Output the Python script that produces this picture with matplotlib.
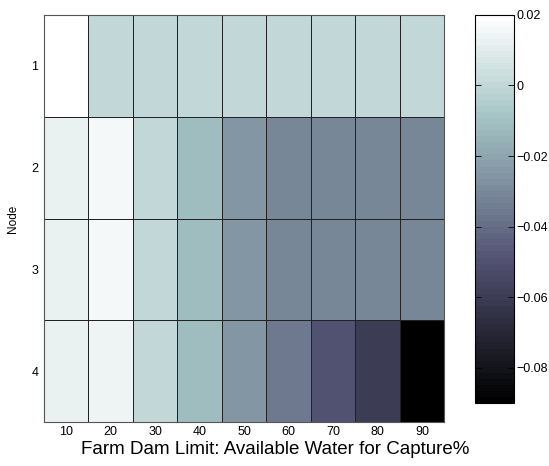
import matplotlib

matplotlib.use("Agg")
import matplotlib.pyplot as plt
import numpy as np

plt.rcParams["font.family"] = ["Liberation Sans", "DejaVu Sans"]

# capture limit (%) per column, nodes per row
limits = [10, 20, 30, 40, 50, 60, 70, 80, 90]
nodes = [1, 2, 3, 4]

node1 = [0.020, 0.000, 0.000, 0.000, 0.000, 0.000, 0.000, 0.000, 0.000]
node2 = [0.012, 0.015, 0.000, -0.011, -0.025, -0.031, -0.031, -0.031, -0.031]
node3 = [0.012, 0.015, 0.000, -0.011, -0.025, -0.031, -0.031, -0.031, -0.031]
node4 = [0.012, 0.014, 0.000, -0.011, -0.025, -0.035, -0.050, -0.060, -0.090]

cbar_ticks = [0.02, 0, -0.02, -0.04, -0.06, -0.08]

vals = np.array([node1, node2, node3, node4])

fig = plt.figure(figsize=(5.49, 4.66), dpi=100)
ax = fig.add_axes([0.080, 0.094, 0.729, 0.874])
cax = fig.add_axes([0.865, 0.135, 0.071, 0.833])

cmap = plt.get_cmap("bone", 64)
mesh = ax.pcolormesh(
    np.arange(len(limits) + 1), np.arange(len(nodes) + 1), vals,
    cmap=cmap, vmin=-0.09, vmax=0.02, edgecolor="#222222", linewidth=0.6,
)
ax.set_ylim(len(nodes), 0)
ax.set_xticks(np.arange(len(limits)) + 0.5)
ax.set_xticklabels([str(v) for v in limits])
ax.set_yticks(np.arange(len(nodes)) + 0.5)
ax.set_yticklabels([str(v) for v in nodes])
ax.tick_params(axis="x", length=0, labelsize=9, pad=3)
ax.tick_params(axis="y", length=0, labelsize=9, pad=4)
ax.set_ylabel("Node", fontsize=8.5, labelpad=9)
# label sits centred on the figure rather than the axes
ax.set_xlabel("Farm Dam Limit: Available Water for Capture%", fontsize=13.5, labelpad=2)
ax.xaxis.set_label_coords(0.5775, -0.045, transform=ax.transAxes)
ax.xaxis.label.set_va("top")
for s in ax.spines.values():
    s.set_color("#555555")
    s.set_linewidth(0.8)

cb = fig.colorbar(mesh, cax=cax)
cb.set_ticks(cbar_ticks)
cb.set_ticklabels(["0.02", "0", "\u22120.02", "\u22120.04", "\u22120.06", "\u22120.08"])
cax.tick_params(direction="in", length=4, labelsize=9, left=True, right=True,
                width=0.6, pad=2)
cb.outline.set_linewidth(0.8)

fig.savefig("out.png", dpi=100)
plt.close(fig)
